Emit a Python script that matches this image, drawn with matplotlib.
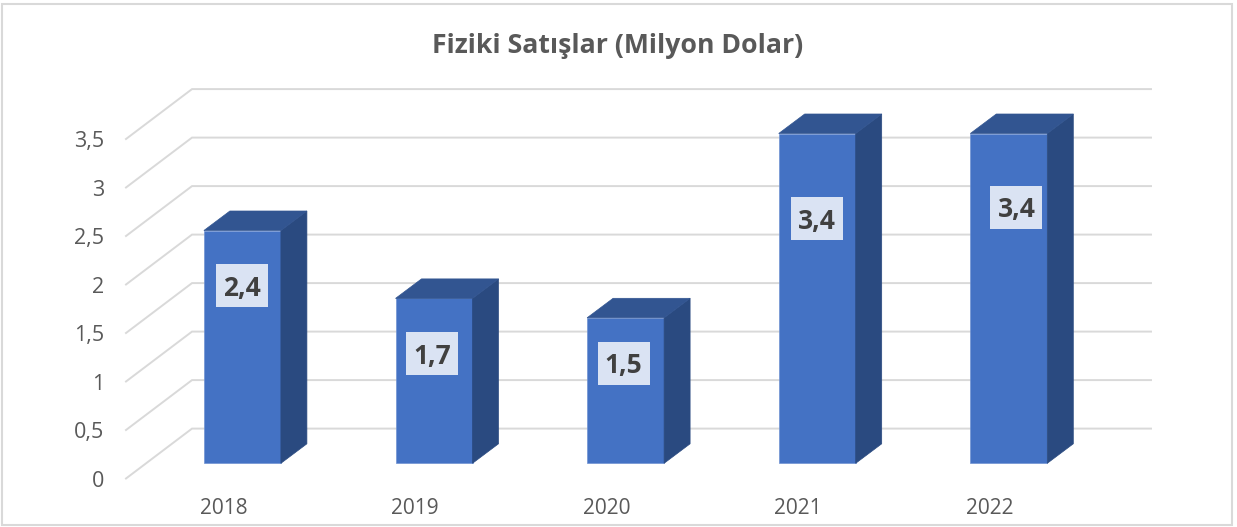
import numpy as np
import matplotlib
matplotlib.use('Agg')
import matplotlib.pyplot as plt
from matplotlib.patches import Rectangle

years = ['2018', '2019', '2020', '2021', '2022']
sales = [2.4, 1.7, 1.5, 3.4, 3.4]
value_ticks = [0, 0.5, 1, 1.5, 2, 2.5, 3, 3.5]
tick_labels = ['0', '0,5', '1', '1,5', '2', '2,5', '3', '3,5']
sales_labels = ['2,4', '1,7', '1,5', '3,4', '3,4']

# hand placed data labels, in axis units
label_x = [0.0, -0.01, -0.01, 0.0, 0.04]
label_y = [1.83, 1.13, 1.03, 2.52, 2.64]

GRID = '#D9D9D9'
TEXT = '#595959'
FRONT = '#4472C4'
SIDE = '#2A4A80'
TOP = '#325591'

# one axis unit in pixels
PX_X = 191.6
PX_Y = 97.0
bar_w = 77 / PX_X
depth_x = 26 / PX_X
depth_y = 19.5 / PX_Y

plt.rcParams['font.family'] = ['Open Sans', 'DejaVu Sans']

fig = plt.figure(figsize=(12.37, 5.27), dpi=100)
ax = fig.add_axes([0, 0, 1, 1])
ax.set_xlim(-242.4 / PX_X, (1237 - 242.4) / PX_X)
ax.set_ylim((463.3 - 527) / PX_Y, 463.3 / PX_Y)
ax.axis('off')

fig.add_artist(Rectangle((1.5 / 1237, 2 / 527), 1230 / 1237, 521 / 527, fill=False,
                         edgecolor=GRID, linewidth=1.5, transform=fig.transFigure))

# walls: back line plus the diagonal running to the front
wall_left = (192 - 242.4) / PX_X
wall_right = (1151 - 242.4) / PX_X
front_left = (126 - 242.4) / PX_X
back_rise = (463.3 - 428.6) / PX_Y
front_drop = (478.5 - 463.3) / PX_Y
for v, lab in zip(value_ticks, tick_labels):
    ax.plot([front_left, wall_left, wall_right],
            [v - front_drop, v + back_rise, v + back_rise],
            color=GRID, lw=1.4, zorder=1, solid_joinstyle='miter')
    ax.text(front_left - 22 / PX_X, v - front_drop - 0.03, lab, ha='right', va='center',
            fontsize=15.5, color=TEXT)

x = np.arange(len(years))
ax.bar(x, sales, width=bar_w, color=FRONT, edgecolor='#6F92D2', linewidth=0.5, zorder=3)
for i, v in zip(x, sales):
    l, r = i - bar_w / 2, i + bar_w / 2
    ax.fill([r, r + depth_x, r + depth_x, r], [0, depth_y, v + depth_y, v],
            color=SIDE, lw=0.5, zorder=3)
    ax.fill([l, l + depth_x, r + depth_x, r], [v, v + depth_y, v + depth_y, v],
            color=TOP, lw=0.5, zorder=3)

for i, lab, lx, ly in zip(x, sales_labels, label_x, label_y):
    ax.add_patch(Rectangle((i + lx - 26 / PX_X, ly - 21.5 / PX_Y), 52 / PX_X, 43 / PX_Y,
                           facecolor='#DAE3F3', edgecolor='none', zorder=4))
    ax.text(i + lx, ly - 0.025, lab, ha='center', va='center', fontsize=19,
            fontweight='bold', color='#404040', zorder=5)

for i, y in zip(x, years):
    ax.text(i - 19 / PX_X, (463.3 - 509) / PX_Y, y, ha='center', va='center',
            fontsize=15, color=TEXT)

fig.text(618 / 1237, 1 - 46 / 527, 'Fiziki Satışlar (Milyon Dolar)', ha='center', va='center',
         fontsize=19.2, fontweight='bold', color=TEXT)

fig.savefig('out.png', dpi=100)
